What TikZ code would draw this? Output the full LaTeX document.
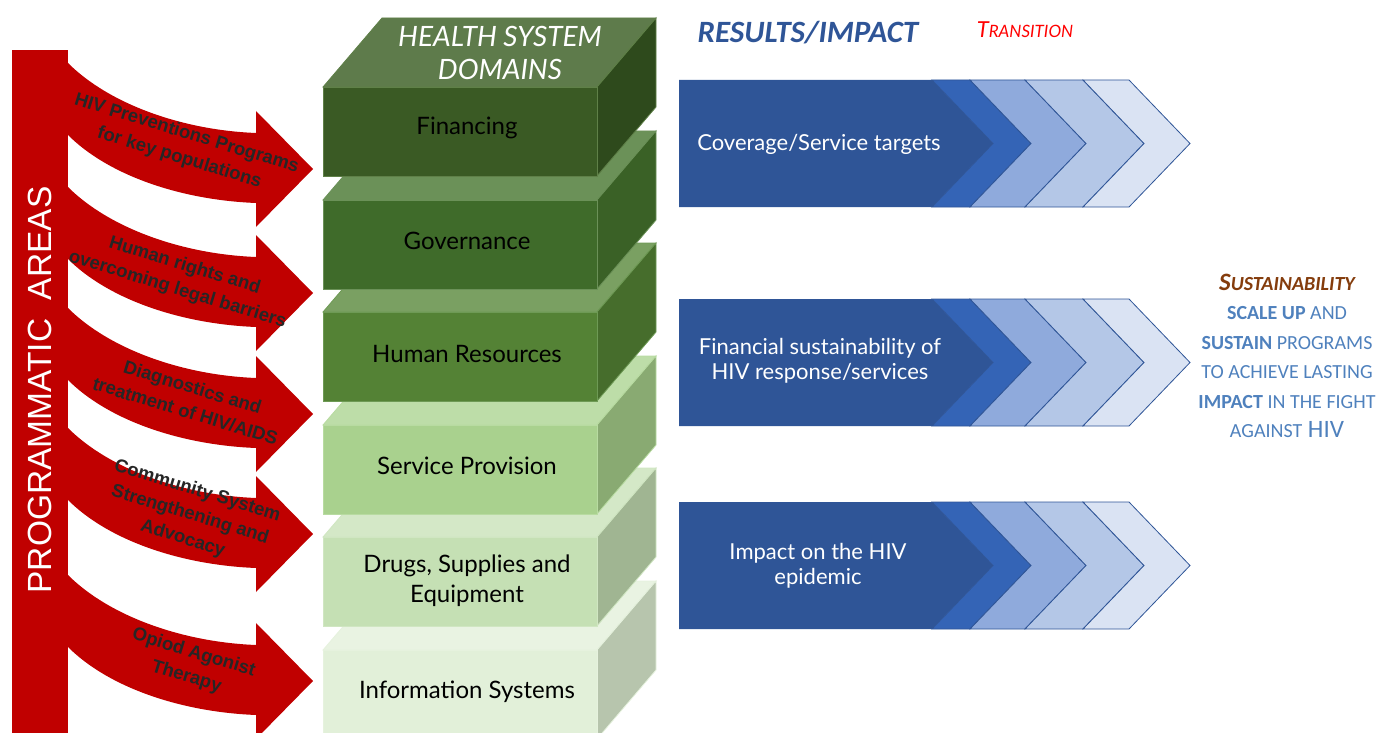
\documentclass[tikz,border=0pt]{standalone}
\usepackage{fontspec}
\setmainfont{Lato}
\newfontfamily\arialf{Liberation Sans}
\newfontfamily\calibf{Carlito}
\definecolor{barred}{HTML}{C00000}
\definecolor{arrowtext}{HTML}{262626}
\definecolor{cbody}{HTML}{2F5597}
\definecolor{ctwo}{HTML}{3464B6}
\definecolor{cthree}{HTML}{8FAADC}
\definecolor{cfour}{HTML}{B4C7E7}
\definecolor{cfive}{HTML}{DAE3F3}
\definecolor{sustblue}{HTML}{4F81BD}
\definecolor{sustbrown}{HTML}{843C0C}
\definecolor{transred}{HTML}{FF0000}
% green blocks: front, top, side, edge
\definecolor{fAf}{HTML}{3A5A24}\definecolor{fAt}{HTML}{5E7B4B}\definecolor{fAs}{HTML}{2E4A1C}\definecolor{fAe}{HTML}{5F8048}
\definecolor{fBf}{HTML}{3F6B2A}\definecolor{fBt}{HTML}{6B9158}\definecolor{fBs}{HTML}{3A6126}\definecolor{fBe}{HTML}{6B9158}
\definecolor{fCf}{HTML}{548235}\definecolor{fCt}{HTML}{7AA062}\definecolor{fCs}{HTML}{466D2C}\definecolor{fCe}{HTML}{6E9A55}
\definecolor{fDf}{HTML}{A9D18E}\definecolor{fDt}{HTML}{BDDDA8}\definecolor{fDs}{HTML}{89AA72}\definecolor{fDe}{HTML}{B8DBA1}
\definecolor{fEf}{HTML}{C5E0B4}\definecolor{fEt}{HTML}{D4E8C7}\definecolor{fEs}{HTML}{A0B592}\definecolor{fEe}{HTML}{D0E6C2}
\definecolor{fFf}{HTML}{E2F0D9}\definecolor{fFt}{HTML}{E9F3E2}\definecolor{fFs}{HTML}{B7C5AD}\definecolor{fFe}{HTML}{E6F2DE}

\newcommand{\redarrow}[1]{%
  \fill[barred] (60,#1) -- (68,#1) .. controls (108,#1+40) and (180,#1+67) .. (256,#1+70)
    -- (256,#1+48) -- (313,#1+106) -- (256,#1+164) -- (256,#1+140)
    .. controls (180,#1+137) and (108,#1+112) .. (68,#1+72) -- (60,#1+72) -- cycle;}

\newcommand{\gblock}[5]{%
  \filldraw[fill=#3,draw=#5,line width=0.8] (323,#1) -- (382,#1-69) -- (656,#1-69) -- (597,#1) -- cycle;
  \filldraw[fill=#4,draw=#5,line width=0.8] (597,#1) -- (656,#1-69) -- (656,#1+20) -- (597,#1+89) -- cycle;
  \filldraw[fill=#2,draw=#5,line width=0.8] (323,#1) rectangle (597,#1+89);}

\newcommand{\chevrow}[1]{%
  \fill[cbody] (679,#1) -- (932,#1) -- (993,#1+63.5) -- (932,#1+127) -- (679,#1+127) -- cycle;
  \filldraw[fill=ctwo,draw=cbody,line width=0.8] (932,#1) -- (970,#1) -- (1031,#1+63.5) -- (970,#1+127) -- (932,#1+127) -- (993,#1+63.5) -- cycle;
  \filldraw[fill=cthree,draw=cbody,line width=0.8] (970,#1) -- (1025,#1) -- (1086,#1+63.5) -- (1025,#1+127) -- (970,#1+127) -- (1031,#1+63.5) -- cycle;
  \filldraw[fill=cfour,draw=cbody,line width=0.8] (1025,#1) -- (1083,#1) -- (1144,#1+63.5) -- (1083,#1+127) -- (1025,#1+127) -- (1086,#1+63.5) -- cycle;
  \filldraw[fill=cfive,draw=cbody,line width=0.8] (1083,#1) -- (1129,#1) -- (1190,#1+63.5) -- (1129,#1+127) -- (1083,#1+127) -- (1144,#1+63.5) -- cycle;}

\newcommand{\smc}[1]{{\fontsize{20}{29.5}\selectfont #1}}

\tikzset{
  arrowlabel/.style={text=arrowtext, font=\arialf\bfseries\fontsize{18.5}{25}\selectfont, align=center, rotate=-17, inner sep=0},
  blocklabel/.style={text=black, font=\fontsize{24}{30}\selectfont, align=center, inner sep=0},
  chevlabel/.style={text=white, font=\fontsize{22}{25}\selectfont, align=center, inner sep=0},
}

\begin{document}
\begin{tikzpicture}[x=1pt,y=-1pt]
\useasboundingbox (0,0) rectangle (1376,733);
\begin{scope}
\clip (0,0) rectangle (1376,733);
% red programmatic areas
\fill[barred] (12,50) rectangle (68,740);
\redarrow{63}
\redarrow{187}
\redarrow{308}
\redarrow{428}
\redarrow{575}
\node[text=white, font=\arialf\fontsize{33.5}{36}\selectfont, rotate=90, inner sep=0] (prog) at (40,390) {PROGRAMMATIC\ \ AREAS};
\node[arrowlabel] (a1) at (183,146) {HIV Preventions Programs\\for key populations};
\node[arrowlabel] (a2) at (181,278) {Human rights and\\overcoming legal barriers};
\node[arrowlabel] (a3) at (189,399) {Diagnostics and\\treatment of HIV/AIDS};
\node[arrowlabel] (a4) at (190,515) {Community System\\Strengthening and\\Advocacy};
\node[arrowlabel] (a5) at (190,665) {Opiod Agonist\\Therapy};

% green stack
\gblock{650}{fFf}{fFt}{fFs}{fFe}
\gblock{537}{fEf}{fEt}{fEs}{fEe}
\gblock{425}{fDf}{fDt}{fDs}{fDe}
\gblock{312}{fCf}{fCt}{fCs}{fCe}
\gblock{200}{fBf}{fBt}{fBs}{fBe}
\gblock{87}{fAf}{fAt}{fAs}{fAe}
\end{scope}
\node[text=white, font=\itshape\fontsize{28}{33}\selectfont, align=center, inner sep=0] (hsd) at (500,53) {HEALTH SYSTEM\\DOMAINS};
\node[blocklabel] (fin) at (467,128) {Financing};
\node[blocklabel] (gov) at (467,241) {Governance};
\node[blocklabel] (hr) at (467,354) {Human Resources};
\node[blocklabel] (sp) at (467,466) {Service Provision};
\node[blocklabel] (dse) at (467,581) {Drugs, Supplies and\\Equipment};
\node[blocklabel] (is) at (467,692) {Information Systems};

% results chevrons
\chevrow{80}
\chevrow{299}
\chevrow{502}
\node[chevlabel] (r1) at (819,144) {Coverage/Service targets};
\node[chevlabel] (r2) at (820,361) {Financial sustainability of\\HIV response/services};
\node[chevlabel] (r3) at (818,566) {Impact on the HIV\\epidemic};

% titles
\node[text=cbody, font=\calibf\bfseries\itshape\fontsize{31}{34}\selectfont, inner sep=0] (res) at (808,33) {RESULTS/IMPACT};
\node[text=transred, font=\itshape\fontsize{22}{24}\selectfont, inner sep=0] (tr) at (1025,30) {T{\fontsize{17}{18}\selectfont RANSITION}};

% sustainability
\node[text=sustblue, font=\calibf\fontsize{25}{29.5}\selectfont, align=center, inner sep=0] (sus) at (1287,356) {%
{\color{sustbrown}\bfseries\itshape S\smc{USTAINABILITY}}\\
\smc{\textbf{SCALE UP} AND}\\
\smc{\textbf{SUSTAIN} PROGRAMS}\\
\smc{TO ACHIEVE LASTING}\\
\smc{\textbf{IMPACT} IN THE FIGHT}\\
\smc{AGAINST} HIV};
\end{tikzpicture}
\end{document}
